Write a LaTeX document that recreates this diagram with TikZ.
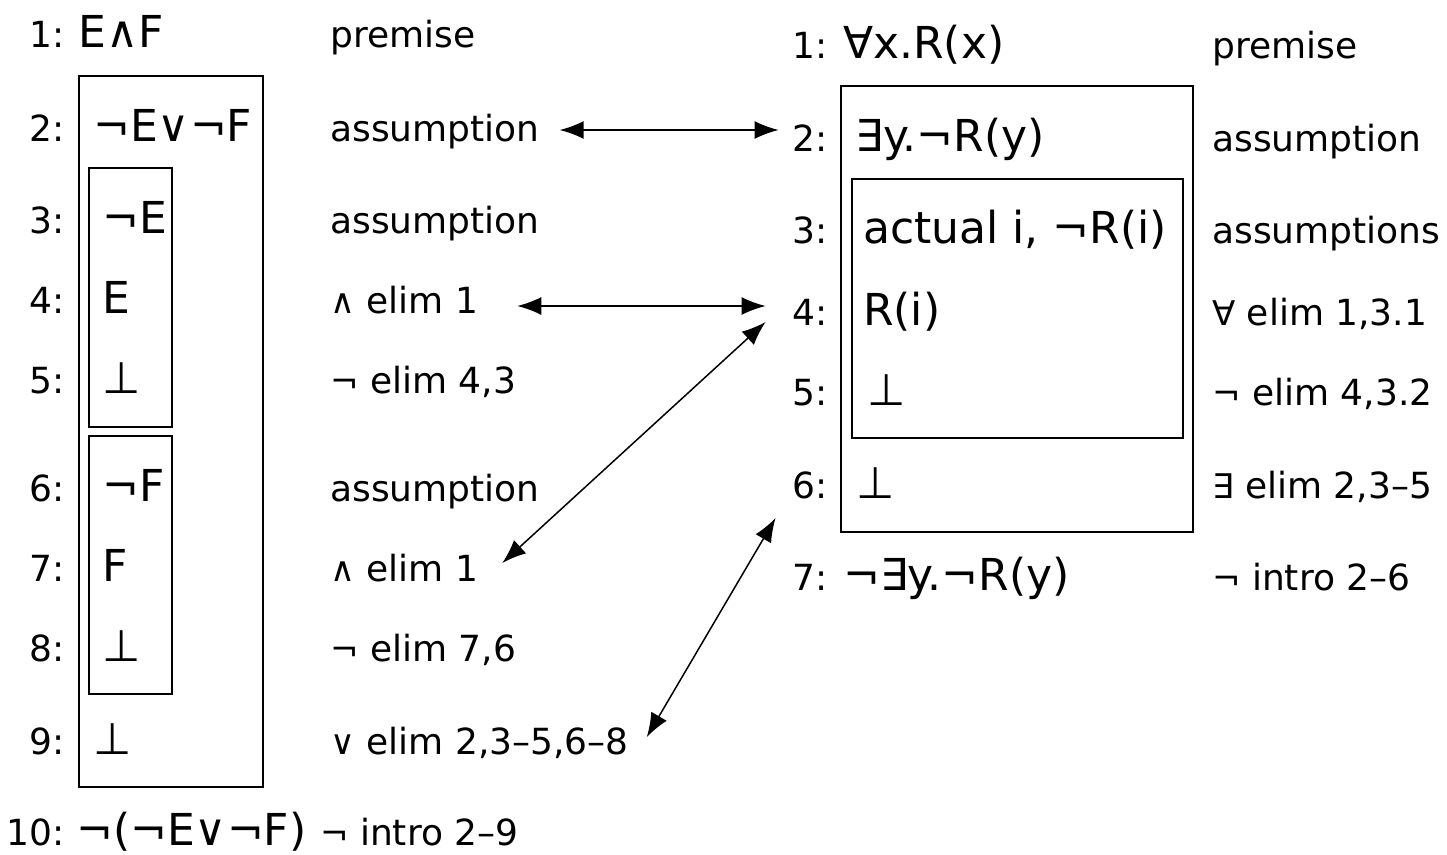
\documentclass[tikz,border=0pt]{standalone}
\usepackage{fontspec}
\setmainfont{DejaVu Sans}
\usepackage{tikz}
\usetikzlibrary{arrows.meta, positioning, calc}

\newcommand\numfont{\fontsize{36pt}{40pt}\selectfont}
\newcommand\frmfont{\fontsize{44pt}{48pt}\selectfont}
\newcommand\jop[1]{{\fontsize{34pt}{34pt}\selectfont #1}}

\begin{document}
\begin{tikzpicture}[x=1pt, y=-1pt,
  every node/.style={inner sep=0pt, text height=26pt, text depth=8pt},
  lnum/.style={anchor=base east, font=\numfont},
  form/.style={anchor=base west, font=\frmfont},
  just/.style={anchor=base west, font=\numfont},
  boxline/.style={draw=black, line width=2pt},
  link/.style={{Latex[length=24pt,width=18pt]}-{Latex[length=24pt,width=18pt]}, line width=1.5pt}]
\useasboundingbox (0,0) rectangle (1447,854);

% left proof
\foreach \n/\y in {1/47,2/141,3/233,4/313,5/393,6/501,7/581,8/661,9/754,10/845}
  \node[lnum] (ln\n) at (65,\y) {\n:};
\node[form] (lf1) at (78,47) {E∧F};
\node[form] (lf2) at (93,141) {¬E∨¬F};
\node[form] (lf3) at (102,233) {¬E};
\node[form] (lf4) at (102,313) {E};
\node[form] (lf5) at (102,393) {⊥};
\node[form] (lf6) at (102,501) {¬F};
\node[form] (lf7) at (102,581) {F};
\node[form] (lf8) at (102,661) {⊥};
\node[form] (lf9) at (93,754) {⊥};
\node[form] (lf10) at (76,845) {¬(¬E∨¬F)};

\node[just] (lj1) at (330,47) {premise};
\node[just] (lj2) at (330,141) {assumption};
\node[just] (lj3) at (330,233) {assumption};
\node[just] (lj4) at (330,313) {\jop{∧} elim 1};
\node[just] (lj5) at (330,393) {\jop{¬} elim 4,3};
\node[just] (lj6) at (330,501) {assumption};
\node[just] (lj7) at (330,581) {\jop{∧} elim 1};
\node[just] (lj8) at (330,661) {\jop{¬} elim 7,6};
\node[just] (lj9) at (330,754) {\jop{∨} elim 2,3–5,6–8};
\node[just] (lj10) at (320,845) {\jop{¬} intro 2–9};

\draw[boxline] (79,76) rectangle (263,787);
\draw[boxline] (89,168) rectangle (172,427);
\draw[boxline] (89,436) rectangle (172,694);

% right proof
\foreach \n/\y in {1/58,2/151,3/243,4/325,5/405,6/498,7/590}
  \node[lnum] (rn\n) at (828,\y) {\n:};
\node[form] (rf1) at (843,58) {∀x.R(x)};
\node[form] (rf2) at (855,151) {∃y.¬R(y)};
\node[form] (rf3) at (863,243) {actual i, ¬R(i)};
\node[form] (rf4) at (863,325) {R(i)};
\node[form] (rf5) at (867,405) {⊥};
\node[form] (rf6) at (856,498) {⊥};
\node[form] (rf7) at (843,590) {¬∃y.¬R(y)};

\node[just] (rj1) at (1212,58) {premise};
\node[just] (rj2) at (1212,151) {assumption};
\node[just] (rj3) at (1212,243) {assumptions};
\node[just] (rj4) at (1212,325) {\jop{∀} elim 1,3.1};
\node[just] (rj5) at (1212,405) {\jop{¬} elim 4,3.2};
\node[just] (rj6) at (1212,498) {\jop{∃} elim 2,3–5};
\node[just] (rj7) at (1212,590) {\jop{¬} intro 2–6};

\draw[boxline] (841,86) rectangle (1193,532);
\draw[boxline] (852,179) rectangle (1183,438);

% correspondences
\draw[link] ([xshift=20pt,yshift=2pt]lj2.east) -- ([xshift=-14pt,yshift=2pt]lj2.east -| rn2.west);
\draw[link] ([xshift=39pt,yshift=-2pt]lj4.east) -- ([xshift=-27pt,yshift=-2pt]lj4.east -| rn4.west);
\draw[link] ([xshift=24pt,yshift=9pt]lj7.east) -- ([xshift=-27pt,yshift=-6pt]rn4.west);
\draw[link] ([xshift=18pt,yshift=8pt]lj9.east) -- ([xshift=-17pt,yshift=-29pt]rn6.west);
\end{tikzpicture}
\end{document}
